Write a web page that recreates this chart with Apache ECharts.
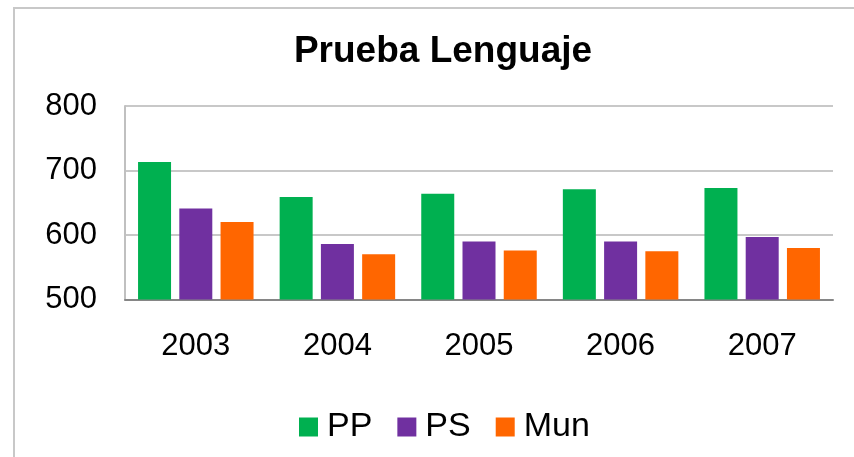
<!DOCTYPE html>
<html>
<head>
<meta charset="utf-8">
<script src="https://cdn.jsdelivr.net/npm/echarts@6/dist/echarts.min.js"></script>
<style>
  html, body { margin: 0; padding: 0; background: #fff; }
  #frame {
    position: absolute; left: 13px; top: 7px; right: -10px; bottom: -10px;
    border-top: 2px solid #c8c8c8; border-left: 2px solid #c8c8c8;
  }
  #chart { position: absolute; left: 0; top: 0; width: 854px; height: 457px; }
</style>
</head>
<body>
<div id="frame"></div>
<div id="chart"></div>
<script>
// datos
const years = ["2003", "2004", "2005", "2006", "2007"];
const ppValues = [713, 659, 664, 671, 673];
const psValues = [641, 586, 590, 590, 597];
const munValues = [620, 570, 576, 575, 580];
const seriesNames = ["PP", "PS", "Mun"];
const yTicks = { min: 500, max: 800, step: 100 };

const FONT = "'Liberation Sans', Arial, sans-serif";
const colors = ["#00b050", "#7030a0", "#ff6600"];

const chart = echarts.init(document.getElementById("chart"));

const mkBar = (name, data) => ({
  name: name,
  type: "bar",
  data: data,
  barWidth: 33,
  barGap: "25%",
});

const option = {
  animation: false,
  color: colors,
  title: {
    text: "Prueba Lenguaje",
    left: 438,
    top: 28,
    textAlign: "center",
    textStyle: { fontFamily: FONT, fontSize: 37, fontWeight: "bold", color: "#000" },
  },
  legend: {
    data: seriesNames,
    left: 294,
    top: 405,
    icon: "rect",
    itemWidth: 19,
    itemHeight: 19,
    itemGap: 25,
    textStyle: { fontFamily: FONT, fontSize: 34, color: "#000", padding: [0, 0, 0, 4] },
  },
  grid: { left: 125, right: 21, top: 106, bottom: 157.5 },
  xAxis: {
    type: "category",
    data: years,
    axisLine: { lineStyle: { color: "#868686", width: 2 } },
    axisTick: { show: false },
    axisLabel: { fontFamily: FONT, fontSize: 31, color: "#000", margin: 31 },
  },
  yAxis: {
    type: "value",
    min: yTicks.min,
    max: yTicks.max,
    interval: yTicks.step,
    axisLine: { show: true, lineStyle: { color: "#c0c0c0", width: 2 } },
    axisTick: { show: false },
    splitLine: { lineStyle: { color: "#c8c8c8", width: 2 } },
    axisLabel: { fontFamily: FONT, fontSize: 31, color: "#000", margin: 28 },
  },
  series: [
    mkBar(seriesNames[0], ppValues),
    mkBar(seriesNames[1], psValues),
    mkBar(seriesNames[2], munValues),
  ],
};

chart.setOption(option);
</script>
</body>
</html>
